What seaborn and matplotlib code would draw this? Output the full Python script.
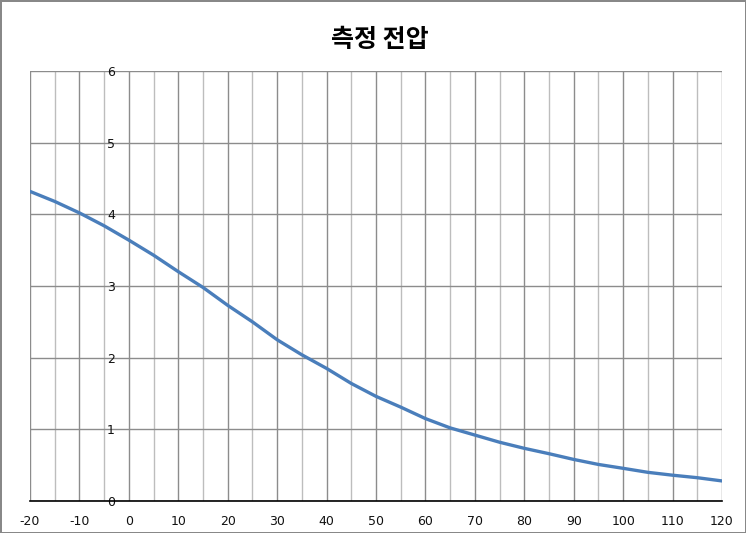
import matplotlib
matplotlib.use("Agg")
import matplotlib.pyplot as plt
import seaborn as sns
import pandas as pd
from matplotlib.ticker import MultipleLocator

temperature = [-20, -15, -10, -5, 0, 5, 10, 15, 20, 25, 30, 35, 40, 45, 50, 55,
               60, 65, 70, 75, 80, 85, 90, 95, 100, 105, 110, 115, 120]
voltage = [4.32, 4.18, 4.02, 3.84, 3.64, 3.43, 3.20, 2.98, 2.73, 2.50, 2.25, 2.04,
           1.85, 1.64, 1.46, 1.31, 1.15, 1.02, 0.92, 0.82, 0.735, 0.66, 0.58, 0.51,
           0.456, 0.40, 0.36, 0.325, 0.28]
title = "측정 전압"
x_ticks = list(range(-20, 121, 10))
y_ticks = list(range(0, 7))

sns.set_style("white")
plt.rcParams['font.family'] = ['DejaVu Sans', 'Noto Sans CJK KR']

df = pd.DataFrame({"T": temperature, "V": voltage})

fig = plt.figure(figsize=(7.46, 5.33), dpi=100)
fig.patch.set_edgecolor('#888888')
fig.patch.set_linewidth(2)
ax = fig.add_axes([30/746, 32/533, 692/746, 430/533])

ax.set_xlim(-20, 120)
ax.set_ylim(0, 6)
ax.xaxis.set_major_locator(MultipleLocator(10))
ax.xaxis.set_minor_locator(MultipleLocator(5))
ax.yaxis.set_major_locator(MultipleLocator(1))
ax.grid(which='major', axis='both', color='#8c8c8c', linewidth=1.0)
ax.grid(which='minor', axis='x', color='#bdbdbd', linewidth=1.0)
ax.set_axisbelow(True)

sns.lineplot(data=df, x="T", y="V", ax=ax, color='#4a7ebb', linewidth=2.4)

for s in ['top', 'right']:
    ax.spines[s].set_visible(False)
ax.spines['left'].set_position(('data', 0))
ax.spines['left'].set_visible(False)
ax.spines['bottom'].set_color('black')
ax.spines['bottom'].set_linewidth(1.2)
ax.spines['bottom'].set_zorder(5)

ax.set_xticks(x_ticks)
ax.set_xticklabels([str(v) for v in x_ticks])
ax.set_yticks(y_ticks)
ax.set_yticklabels([str(v) for v in y_ticks])
ax.tick_params(axis='x', which='major', direction='out', length=5, width=1,
               color='black', labelsize=9, pad=5, labelcolor='#111111')
ax.tick_params(axis='x', which='minor', length=0)
ax.tick_params(axis='y', which='major', length=0, labelsize=9, pad=10,
               labelcolor='#111111', left=True)
ax.set_xlabel("")
ax.set_ylabel("")

fig.text(380/746, 1 - 40/533, title, ha='center', va='center', color='black',
         fontsize=18, fontweight='bold', family=['Noto Sans CJK KR', 'DejaVu Sans'])

fig.savefig("out.png", dpi=100, edgecolor=fig.get_edgecolor())
